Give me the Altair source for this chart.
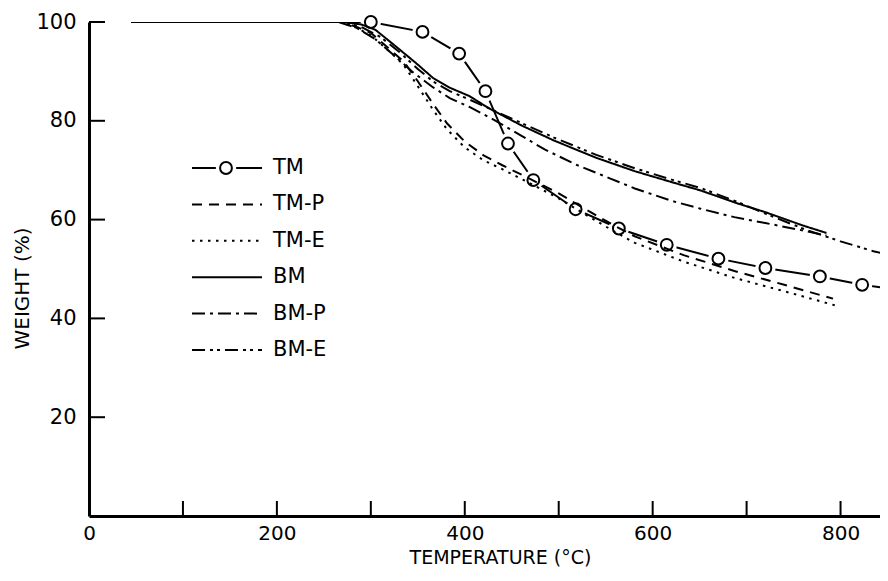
import altair as alt
import pandas as pd

# ---------------- data ----------------
names = ["TM", "TM-P", "TM-E", "BM", "BM-P", "BM-E"]
dashes = [[1, 0], [10, 7], [2.5, 5.5], [1, 0], [13, 5, 3, 5], [13, 5, 3, 4, 3, 5]]

tm_t = [45, 300, 355, 394, 422, 446, 473, 518, 564, 615, 670, 720, 778, 823, 850]
tm_w = [100, 100, 98, 93.6, 86, 75.4, 68, 62.1, 58.2, 54.9, 52.1, 50.2, 48.5, 46.8, 46.1]
tm_marker_t = [300, 355, 394, 422, 446, 473, 518, 564, 615, 670, 720, 778, 823]
tm_marker_w = [100, 98, 93.6, 86, 75.4, 68, 62.1, 58.2, 54.9, 52.1, 50.2, 48.5, 46.8]

tmp_t = [45, 268, 285, 300, 320, 335, 350, 366, 381, 400, 420, 440, 470, 500, 533, 560, 581, 633, 687, 740, 792]
tmp_w = [100, 100, 99, 97.8, 94.5, 92, 88, 83.5, 79.5, 75.8, 73, 71, 68.2, 65.3, 61.6, 58.7, 56.6, 52.8, 49.6, 46.8, 44]

tme_t = [45, 268, 285, 300, 320, 335, 350, 366, 381, 400, 420, 440, 470, 500, 533, 560, 581, 633, 687, 740, 795]
tme_w = [100, 100, 98.8, 97.3, 94, 91.3, 87, 82.3, 78.3, 74.6, 72, 70.2, 67.3, 64.3, 60.5, 57.5, 55.3, 51.5, 48.2, 45.5, 42.6]

bm_t = [45, 270, 290, 305, 327, 348, 366, 384, 405, 426, 461, 495, 540, 581, 620, 651, 690, 720, 760, 785]
bm_w = [100, 100, 99.5, 98.4, 95, 91.7, 88.7, 86.7, 85, 82.5, 79, 76, 72.5, 69.8, 67.6, 65.9, 63.3, 61.5, 58.8, 57.3]

bmp_t = [45, 265, 285, 305, 325, 345, 366, 384, 405, 433, 460, 485, 520, 555, 581, 620, 651, 687, 720, 760, 785]
bmp_w = [100, 100, 98.8, 96.5, 93.2, 89.8, 86.8, 84.6, 82.8, 80, 77, 74.2, 71, 68.3, 66.3, 63.8, 62.2, 60.5, 59.3, 57.8, 56.8]

bme_t = [45, 270, 290, 310, 330, 350, 366, 384, 405, 426, 461, 495, 540, 581, 620, 651, 690, 720, 765, 800, 835, 850]
bme_w = [100, 100, 99, 97, 94, 90.5, 88, 86, 84.3, 82.5, 79.5, 76.6, 73.1, 70.4, 68.1, 66.4, 63.6, 61.2, 57.8, 55.6, 53.6, 52.9]

x_label_values = [0, 200, 400, 600, 800]
x_tick_values = [100, 200, 300, 400, 500, 600, 700, 800]
y_tick_values = [20, 40, 60, 80, 100]

# ---------------- layout / style ----------------
W, H = 791, 494
FONT = "DejaVu Sans"

def frame(t, w, name):
    return pd.DataFrame({"t": t, "w": w, "series": name})

curves = pd.concat([
    frame(tmp_t, tmp_w, "TM-P"),
    frame(tme_t, tme_w, "TM-E"),
    frame(bm_t, bm_w, "BM"),
    frame(bmp_t, bmp_w, "BM-P"),
    frame(bme_t, bme_w, "BM-E"),
], ignore_index=True)
tm_line = frame(tm_t, tm_w, "TM")
tm_marks = frame(tm_marker_t, tm_marker_w, "TM")
xticks = pd.DataFrame({"t": x_tick_values})
yticks = pd.DataFrame({"w": y_tick_values})
legend_df = pd.DataFrame({"series": names, "row": list(range(len(names)))})

xs = alt.Scale(domain=[0, 842], nice=False, zero=False)
ys = alt.Scale(domain=[0, 100], nice=False, zero=False)
dash_scale = alt.Scale(domain=names, range=dashes)

x_enc = alt.X("t:Q", scale=xs, axis=alt.Axis(
    values=x_label_values, tickSize=0, domainWidth=3, labelFontSize=20,
    labelPadding=7, labelFlush=False, title="TEMPERATURE (°C)", titleFontSize=19,
    titleFontWeight="normal", titleX=411, titleY=47, titleBaseline="alphabetic",
    titleAnchor="middle", grid=False))
y_enc = alt.Y("w:Q", scale=ys, axis=alt.Axis(
    values=y_tick_values, tickSize=0, domainWidth=3, labelFontSize=21,
    labelPadding=13, labelFlush=False, title="WEIGHT (%)", titleFontSize=20,
    titleFontWeight="normal", titleX=-67, titleY=266, titleAngle=270,
    titleBaseline="middle", titleAlign="center", grid=False))

line_tm = alt.Chart(tm_line).mark_line(color="black", strokeWidth=2, clip=True).encode(
    x=x_enc, y=y_enc, order="t:Q")
halo = alt.Chart(tm_marks).mark_point(shape="circle", filled=True, fill="white",
                                      opacity=1, size=420, strokeWidth=0).encode(x=x_enc, y=y_enc)
circles = alt.Chart(tm_marks).mark_point(shape="circle", filled=False, color="black",
                                         strokeWidth=2, size=140, opacity=1).encode(x=x_enc, y=y_enc)
others = alt.Chart(curves).mark_line(color="black", strokeWidth=2, clip=True).encode(
    x=x_enc, y=y_enc, detail="series:N", order="t:Q",
    strokeDash=alt.StrokeDash("series:N", scale=dash_scale, legend=None))
ytick_rules = alt.Chart(yticks).mark_rule(color="black", strokeWidth=2).encode(
    y=y_enc, x=alt.value(0), x2=alt.value(16))
xtick_rules = alt.Chart(xticks).mark_rule(color="black", strokeWidth=2).encode(
    x=x_enc, y=alt.value(H), y2=alt.value(H - 15))

main = alt.layer(line_tm, halo, circles, others, ytick_rules, xtick_rules)

row_y = alt.Y("row:Q", scale=alt.Scale(domain=[0, 5], range=[146, 328], nice=False, zero=False), axis=None)
leg_lines = alt.Chart(legend_df).mark_rule(color="black", strokeWidth=2).encode(
    y=row_y, x=alt.value(103), x2=alt.value(173),
    strokeDash=alt.StrokeDash("series:N", scale=dash_scale, legend=None))
leg_halo = alt.Chart(legend_df).transform_filter(alt.datum.series == "TM").mark_point(
    shape="circle", filled=True, fill="white", opacity=1, size=420, strokeWidth=0).encode(
    y=row_y, x=alt.value(137))
leg_circle = alt.Chart(legend_df).transform_filter(alt.datum.series == "TM").mark_point(
    shape="circle", filled=False, color="black", strokeWidth=2, size=140, opacity=1).encode(
    y=row_y, x=alt.value(137))
leg_text = alt.Chart(legend_df).mark_text(align="left", baseline="middle", font=FONT,
                                          fontSize=21, color="black").encode(
    y=row_y, x=alt.value(184), text="series:N")
legend = alt.layer(leg_lines, leg_halo, leg_circle, leg_text)

chart = alt.layer(main, legend).resolve_scale(y="independent").properties(
    width=W, height=H,
    padding={"left": 81, "top": 14, "right": 0, "bottom": 52},
    autosize=alt.AutoSizeParams(type="none"),
    background="white",
).configure_view(stroke=None).configure_axis(
    domainColor="black", labelColor="black", titleColor="black",
    labelFont=FONT, titleFont=FONT)

chart.save("out.html", embed_options={"renderer": "svg", "actions": False})
